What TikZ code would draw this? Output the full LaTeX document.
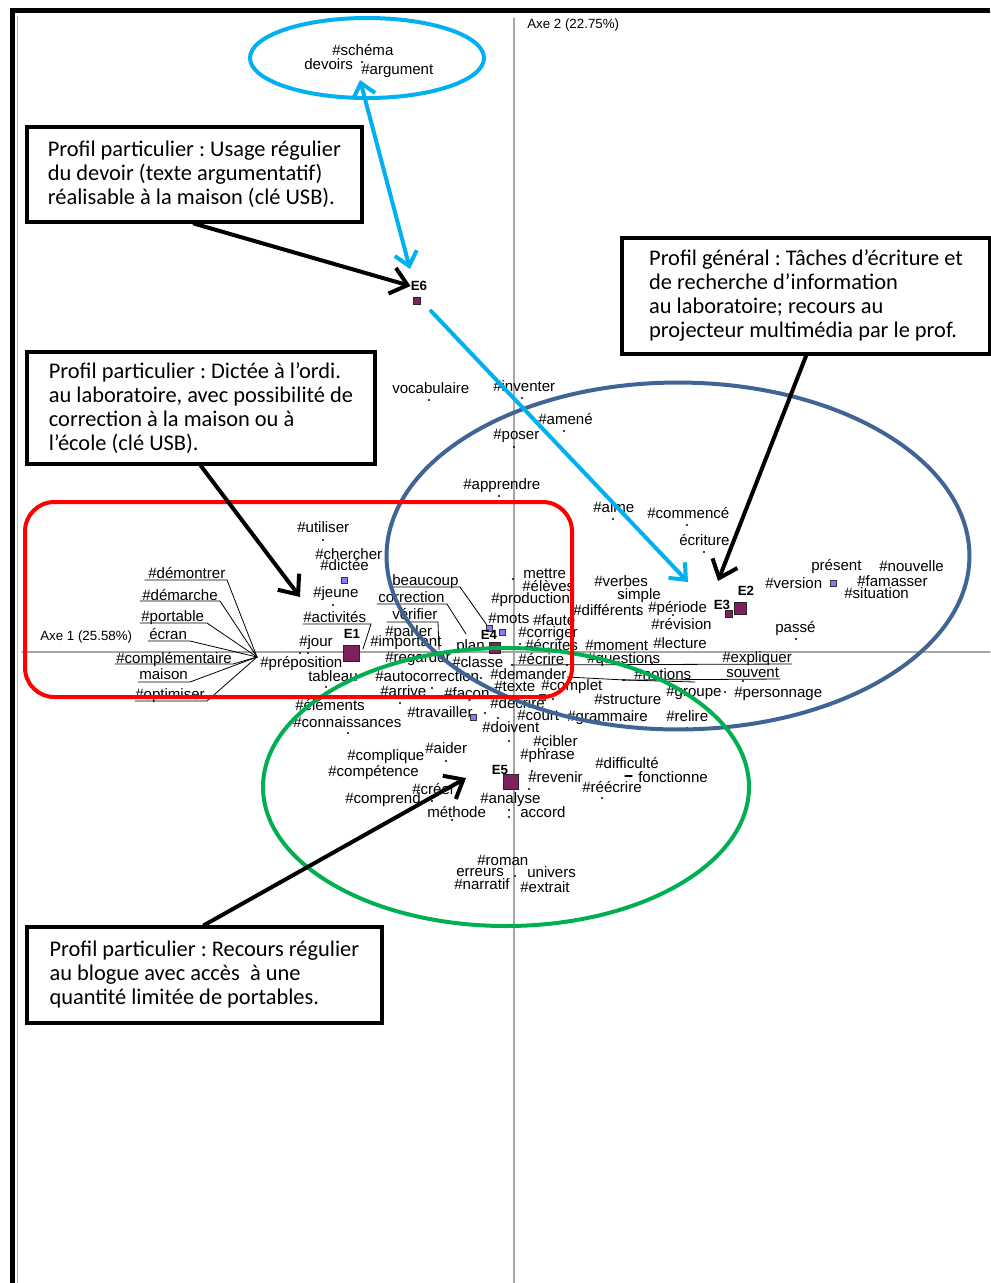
\documentclass[tikz,border=0pt]{standalone}
\usepackage{fontspec}
\setmainfont{Liberation Sans}
\newfontfamily\calibri{Carlito}
\usepackage{tikz}
\usetikzlibrary{arrows.meta}
\definecolor{profilBlue}{RGB}{0,176,240}
\definecolor{axeNavy}{RGB}{64,100,148}
\definecolor{groupGreen}{RGB}{0,176,80}
\definecolor{markPurple}{RGB}{128,32,96}
\definecolor{markLilac}{RGB}{128,128,255}
\frenchspacing

\tikzset{
  word/.style={anchor=west, inner sep=0pt, text height=8pt, text depth=0pt, font=\fontsize{11.3}{13}\selectfont},
  axelabel/.style={anchor=west, inner sep=0pt, font=\fontsize{10}{12}\selectfont},
  elabel/.style={inner sep=0pt, font=\bfseries\fontsize{10}{12}\selectfont},
  marker/.style={draw=black!85, fill=markPurple, inner sep=0pt, line width=0.6pt},
  lilac/.style={draw=black!80, fill=markLilac, inner sep=0pt, minimum size=4.5pt, line width=0.5pt},
  leader/.style={line width=0.6pt},
  callout/.style={draw, line width=3pt, fill=white, anchor=north west, align=left, inner sep=0pt, font=\calibri\fontsize{16.8}{18}\selectfont},
  pointer/.style={line width=3pt, -{Straight Barb[length=12pt, width=20pt]}},
}

\begin{document}
\begin{tikzpicture}[x=0.75pt, y=-0.75pt, line cap=round]
  \useasboundingbox (0,0) rectangle (990,1283);
  % frame and axes
  \draw[line width=3.75pt, line cap=butt] (12,1283) -- (12,10) -- (990,10);
  \draw[gray!60] (17,16) -- (17,1283);
  \draw[gray!70, line width=0.8pt] (514,18) -- (514,1283);
  \draw[gray!70, line width=0.8pt] (22,652) -- (990,652);
  \node[axelabel] (axe2) at (527,25) {Axe 2 (22.75\%)};
  \node[axelabel] (axe1) at (40,637) {Axe 1 (25.58\%)};

  % modalites
  \foreach \t/\x/\y [count=\i] in {
    \#schéma/332/50, devoirs/304/64, \#argument/361/69,
    vocabulaire/392/388, \#inventer/493/386, \#amené/538/419, \#poser/493/434,
    \#apprendre/463/484, \#aime/593/507, \#commencé/647/513, écriture/679/540,
    \#utiliser/297/527, \#chercher/315/554, \#dictée/320/565, \#jeune/313/592,
    \#activités/303/617, \#jour/299/641, \#préposition/260/662, tableau/308/676,
    \#éléments/295/705, \#connaissances/293/722,
    \#démontrer/148/573, \#démarche/142/595, \#portable/141/616, écran/149/634,
    \#complémentaire/116/658, maison/139/674, \#optimiser/135/694,
    beaucoup/392/580, correction/378/597, vérifier/392/614, \#parler/385/631,
    \#important/370/641, \#regarder/385/657, plan/456/645, \#classe/452/662,
    \#autocorrection/375/676, \#arrive/380/691, \#façon/444/693, \#travailler/407/712,
    mettre/523/573, \#élèves/522/586, \#production/491/598, \#mots/488/618,
    \#faute/533/620, \#corriger/518/632, \#écrites/525/645, \#écrire/518/659,
    \#demander/490/674, \#texte/494/686, \#complet/541/685, \#décrire/490/703,
    \#court/517/715, \#doivent/482/727,
    \#verbes/594/581, simple/617/594, \#différents/573/610, \#période/648/607,
    \#révision/651/624, \#moment/585/645, \#lecture/653/643, \#questions/587/658,
    \#notions/634/674, \#expliquer/722/657, souvent/726/672, \#groupe/666/691,
    \#personnage/734/692, \#structure/594/699, \#grammaire/567/716, \#relire/666/716,
    \#version/765/583, présent/811/565, \#nouvelle/879/566, \#famasser/857/581,
    \#situation/844/593, passé/775/627,
    \#cibler/533/741, \#phrase/520/754, \#aider/425/748, \#complique/347/755,
    \#compétence/328/771, \#revenir/528/777, \#difficulté/595/763, fonctionne/638/777,
    \#réécrire/582/787, \#créer/412/789, \#comprend/345/798, \#analyse/480/798,
    méthode/427/812, accord/520/812, \#roman/477/860, erreurs/456/871,
    univers/527/872, \#narratif/454/884, \#extrait/520/887}
    \node[word] (w\i) at (\x,\y) {\t};

  \foreach \x/\y in {362/62, 429/400, 522/398, 564/431, 514/447, 499/496, 613/519,
    687/525, 704/552, 323/540, 333/605, 326/687, 348/733, 300/653, 308/653, 796/639,
    725/692, 687/728, 509/741, 545/749, 532/771, 529/789, 602/798, 446/761, 432/801,
    452/820, 509/810, 509/817, 515/876, 467/665, 481/678, 432/688, 400/703, 485/713,
    498/718, 553/699, 513/579, 520/644, 622/596, 638/613, 673/615, 623/680, 743/681,
    860/577, 512/665, 567/665, 652/663, 625/680}
    \fill (\x,\y) circle (0.9pt);
  \draw[line width=1pt] (625,776) -- (632,776);

  \foreach \x/\y [count=\i] in {344/580, 489/628, 502/632, 473/717, 542/697, 833/583}
    \node[lilac] (s\i) at (\x,\y) {};

  % leader lines
  \coordinate (fan) at (257,657);
  \draw[leader] (145,580) -- (227,580) -- (fan);
  \draw[leader] (140,601) -- (220,601) -- (fan);
  \draw[leader] (140,623) -- (207,623) -- (fan);
  \draw[leader] (148,641) -- (190,641) -- (fan);
  \draw[leader] (115,664) -- (233,664) -- (fan);
  \draw[leader] (138,682) -- (190,682) -- (fan);
  \draw[leader] (135,701) -- (207,701) -- (fan);
  \draw[leader] (303,624) -- (371,624) -- (363,649);
  \draw[leader] (390,587) -- (460,587) -- (s2);
  \draw[leader] (377,604) -- (447,604) -- (466,634);
  \draw[leader] (387,622) -- (438,622) -- (439,650);
  \draw[leader] (512,665) -- (792,664);
  \draw[leader] (567,677) -- (625,680) -- (695,682);
  \draw[leader] (627,680) -- (780,679);

  % individus
  \node[marker, minimum size=12pt] (e1) at (351,653) {};
  \node[marker, minimum size=9pt] (e2) at (740,608) {};
  \node[marker, minimum size=5.5pt] (e3) at (729,614) {};
  \node[marker, minimum size=8pt] (e4) at (495,648) {};
  \node[marker, minimum size=11pt] (e5) at (511,782) {};
  \node[marker, minimum size=5.5pt] (e6) at (417,301) {};
  \node[elabel] (e1lab) at (352,634) {E1};
  \node[elabel] (e2lab) at (746,591) {E2};
  \node[elabel] (e3lab) at (722,605) {E3};
  \node[elabel] (e4lab) at (489,635) {E4};
  \node[elabel] (e5lab) at (500,770) {E5};
  \node[elabel] (e6lab) at (419,286) {E6};

  % groupes
  \draw[profilBlue, line width=3pt] (367,58) ellipse [x radius=87.75pt, y radius=30pt];
  \draw[axeNavy, line width=3pt] (678,556) ellipse [x radius=218.6pt, y radius=130.1pt];
  \draw[groupGreen, line width=3pt] (506,787) ellipse [x radius=182.25pt, y radius=104.25pt];
  \draw[red, line width=3pt, rounded corners=22pt] (25,502) rectangle (572,697);

  % profils
  \node[callout, minimum width=251pt, minimum height=71pt] (box1) at (25,125)
    {Profil particulier : Usage régulier\\du devoir (texte argumentatif)\\réalisable à la maison (clé USB).};
  \node[callout, minimum width=261pt, minimum height=84pt] (box2) at (25,350)
    {Profil particulier : Dictée à l’ordi.\\au laboratoire, avec possibilité de\\correction à la maison ou à\\l’école (clé USB).};
  \node[callout, minimum width=276pt, minimum height=87pt] (box3) at (620,236)
    {Profil général : Tâches d’écriture et\\de recherche d’information\\au laboratoire; recours au\\projecteur multimédia par le prof.};
  \node[callout, minimum width=266pt, minimum height=72pt] (box4) at (25,925)
    {Profil particulier : Recours régulier\\au blogue avec accès \ à une\\quantité limitée de portables.};

  % fleches
  \coordinate (cyanTop) at (360,80);
  \coordinate (cyanLow) at (410,269);
  \coordinate (cyanStart) at (431,311);
  \coordinate (cyanTip) at (688,582);
  \coordinate (tipE2) at (718,581);
  \coordinate (tipE1) at (300,597);
  \coordinate (tipE5) at (466,778);
  \draw[pointer] (box1.south) -- (e6lab.west);
  \draw[profilBlue, line width=3pt, {Straight Barb[length=10pt, width=17pt]}-{Straight Barb[length=10pt, width=17pt]}] (cyanTop) -- (cyanLow);
  \draw[profilBlue, line width=3pt, -{Straight Barb[length=10pt, width=17pt]}] (cyanStart) -- (cyanTip);
  \draw[pointer] (box3.south) -- (tipE2);
  \draw[pointer] (box2.south) -- (tipE1);
  \draw[pointer] (box4.north) -- (tipE5);
\end{tikzpicture}
\end{document}
